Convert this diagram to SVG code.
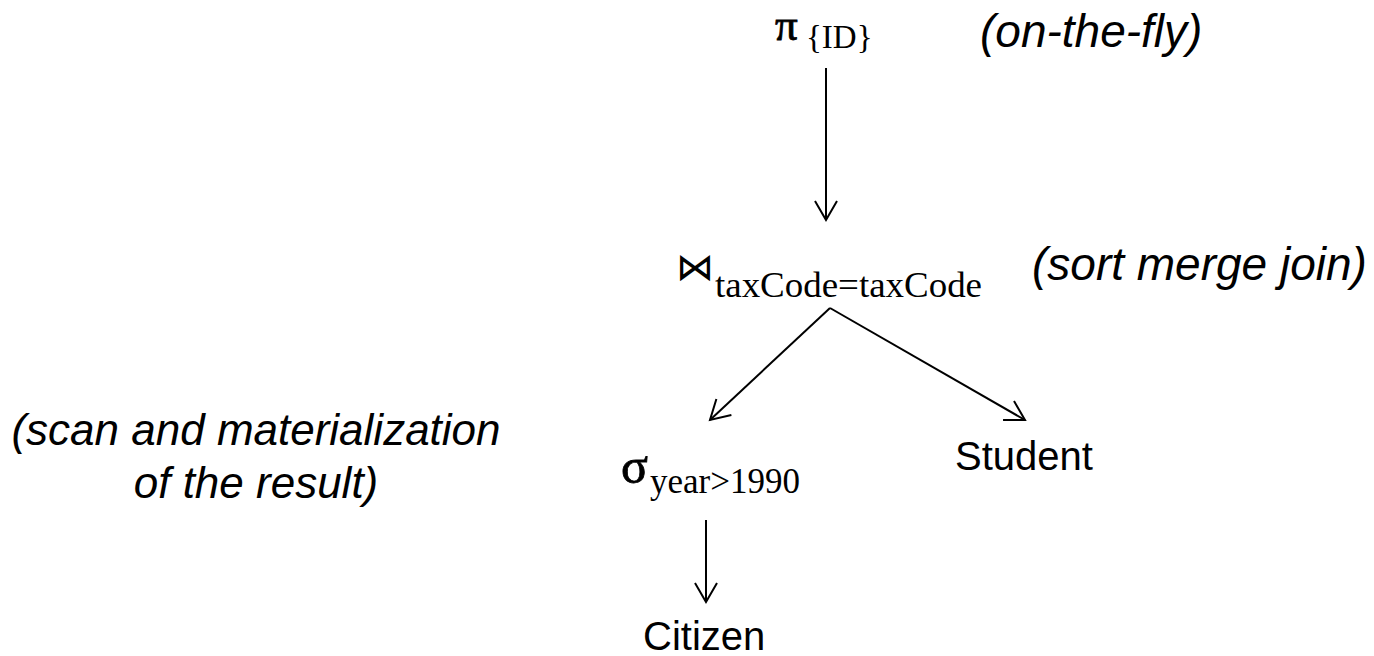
<svg xmlns="http://www.w3.org/2000/svg" width="1374" height="656" viewBox="0 0 1374 656">
<defs>
<marker id="arr" markerUnits="userSpaceOnUse" markerWidth="30" markerHeight="30" viewBox="-25 -15 30 30" refX="0" refY="0" orient="auto">
<path d="M-19,-11 L0,0 L-19,11" fill="none" stroke="#000" stroke-width="2"/>
</marker>
</defs>
<style>
.note{font-family:"Liberation Sans",Arial,sans-serif;font-style:italic;fill:#000}
.lbl{font-family:"Liberation Sans",Arial,sans-serif;fill:#000}
.op{font-family:"Liberation Serif","Times New Roman",serif;fill:#000;stroke:#000;stroke-width:0.8}
.sub{font-family:"Liberation Serif","Times New Roman",serif;fill:#000}
.edge{stroke:#000;stroke-width:2;fill:none;marker-end:url(#arr)}
</style>
<rect width="1374" height="656" fill="#fff"/>
<g id="proj">
<text class="op" x="775" y="40" font-size="45">π</text>
<text class="sub" x="806" y="48" font-size="33">{ID}</text>
</g>
<g id="join">
<text x="676" y="280" font-size="38" font-family="DejaVu Sans,sans-serif">⋈</text>
<text class="sub" x="715" y="297" font-size="36" textLength="267" lengthAdjust="spacingAndGlyphs">taxCode=taxCode</text>
</g>
<g id="select">
<text class="op" x="621" y="483" font-size="50">σ</text>
<text class="sub" x="650" y="493" font-size="35">year&gt;1990</text>
</g>
<g id="student">
<text class="lbl" x="955" y="470" font-size="40">Student</text>
</g>
<g id="citizen">
<text class="lbl" x="643" y="650" font-size="40">Citizen</text>
</g>
<g id="notes">
<text class="note" x="980" y="47" font-size="46">(on-the-fly)</text>
<text class="note" x="1032" y="280" font-size="46">(sort merge join)</text>
<text class="note" x="256" y="445" font-size="44" text-anchor="middle">(scan and materialization</text>
<text class="note" x="256" y="498" font-size="44" text-anchor="middle">of the result)</text>
</g>
<g id="connectors">
<line class="edge" x1="826" y1="68" x2="826" y2="220"/>
<line class="edge" x1="830" y1="308" x2="710" y2="420"/>
<line class="edge" x1="830" y1="308" x2="1025" y2="420"/>
<line class="edge" x1="706" y1="520" x2="706" y2="602"/>
</g>
</svg>
